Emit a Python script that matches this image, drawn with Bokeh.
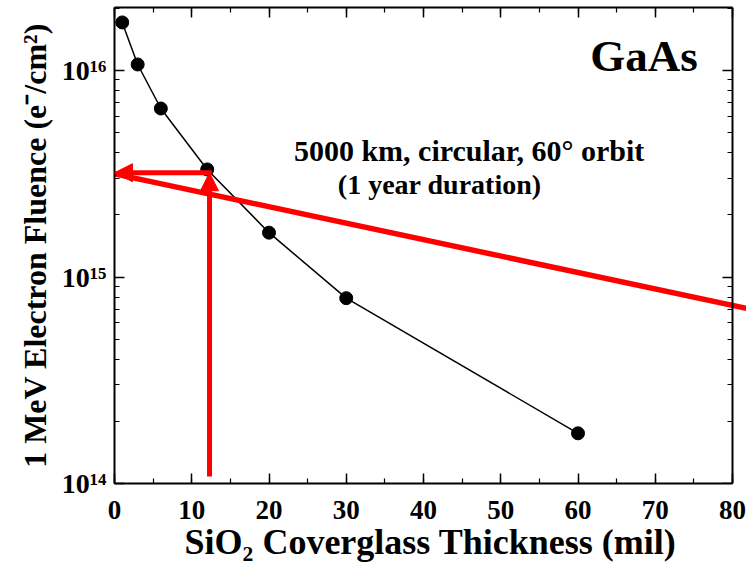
from bokeh.plotting import figure
from bokeh.models import (LinearAxis, LogAxis, SingleIntervalTicker, FixedTicker,
                          Arrow, NormalHead, Label, Range1d, CustomJSTickFormatter)
from bokeh.embed import file_html
from bokeh.resources import INLINE

# ---- data ----
thickness = [1, 3, 6, 12, 20, 30, 60]                       # mil
fluence = [1.71e16, 1.07e16, 6.55e15, 3.32e15, 1.64e15, 7.9e14, 1.75e14]

orbit_thickness = [0, 82]                                   # red mission line
orbit_fluence = [3.16e15, 7.03e14]

req_thickness = 12.3        # read-off thickness (vertical arrow)
req_fluence = 3.2e15        # read-off fluence (horizontal arrow)
arrow_base = 1.08e14
arrow_h_start = 12.6

x_axis_max = 80
x_ticks = [0, 10, 20, 30, 40, 50, 60, 70, 80]
y_ticks = [1e14, 1e15, 1e16]
y_tick_labels = ["10\u00b9\u2074", "10\u00b9\u2075", "10\u00b9\u2076"]
y_minor = [k * d for d in (1e14, 1e15, 1e16) for k in range(2, 10)]

FONT = "Liberation Serif"

# frame spans the page's right edge so the mission line runs past x=80
x_view_max = x_axis_max * (746 - 114) / (732 - 114)

p = figure(width=746, height=566, output_backend="svg", toolbar_location=None,
           x_range=Range1d(0, x_view_max), y_range=Range1d(1e14, 2.02e16),
           y_axis_type="log", x_axis_location=None, y_axis_location=None,
           min_border_left=114, min_border_right=0, min_border_top=7,
           min_border_bottom=83)
p.background_fill_color = "white"
p.border_fill_color = "white"
p.outline_line_color = None
p.xgrid.visible = False
p.ygrid.visible = False

xt = SingleIntervalTicker(interval=10, num_minor_ticks=2)
yt = FixedTicker(ticks=y_ticks, minor_ticks=y_minor)
ylab = CustomJSTickFormatter(args=dict(tvals=y_ticks, tlabs=y_tick_labels), code="""
const i = tvals.findIndex(t => Math.abs(Math.log10(t) - Math.log10(tick)) < 1e-6);
return i >= 0 ? tlabs[i] : '';
""")
blank = CustomJSTickFormatter(code="return '';")


def style(ax, labels=True):
    ax.axis_line_width = 2
    ax.axis_line_color = "black"
    ax.major_tick_in = 10
    ax.major_tick_out = 0
    ax.minor_tick_in = 5
    ax.minor_tick_out = 0
    ax.major_tick_line_width = 1.5
    ax.minor_tick_line_width = 1.2
    if labels:
        ax.major_label_text_font = FONT
        ax.major_label_text_font_style = "bold"
        ax.major_label_text_font_size = "27px"
        ax.major_label_text_color = "black"
        ax.axis_label_text_font = FONT
        ax.axis_label_text_font_style = "bold"
        ax.axis_label_text_color = "black"
    else:
        ax.major_label_text_font_size = "0px"
        ax.major_label_standoff = 0


xb = LinearAxis(ticker=xt, axis_label="SiO\u2082 Coverglass Thickness (mil)",
                bounds=(0, x_axis_max))
style(xb)
xb.axis_label_text_font_size = "36px"
xb.major_label_standoff = 17
xb.axis_label_standoff = 0
p.add_layout(xb, "below")

yl = LogAxis(ticker=yt, formatter=ylab,
             axis_label="1 MeV Electron Fluence (e\u207b/cm\u00b2)")
style(yl)
yl.major_label_text_font_size = "28px"
yl.axis_label_text_font_size = "32px"
yl.major_label_standoff = 8
yl.axis_label_standoff = 6
p.add_layout(yl, "left")

xa = LinearAxis(ticker=xt, formatter=blank, bounds=(0, x_axis_max))
style(xa, labels=False)
p.add_layout(xa, "above")

yr = LogAxis(ticker=yt, formatter=blank, fixed_location=x_axis_max)
style(yr, labels=False)
p.add_layout(yr, "right")

# data curve
p.line(thickness, fluence, line_color="black", line_width=1.5)
p.scatter(thickness, fluence, size=13, color="black")

# mission line
p.line(orbit_thickness, orbit_fluence, line_color="red", line_width=5.5)

# read-off arrows
p.add_layout(Arrow(end=NormalHead(size=18, fill_color="red", line_color="red"),
                   x_start=arrow_h_start, y_start=req_fluence,
                   x_end=0, y_end=req_fluence,
                   line_color="red", line_width=5))
p.add_layout(Arrow(end=NormalHead(size=18, fill_color="red", line_color="red"),
                   x_start=req_thickness, y_start=arrow_base,
                   x_end=req_thickness, y_end=req_fluence,
                   line_color="red", line_width=5))

# texts
p.add_layout(Label(x=75.5, y=1.17e16, text="GaAs", text_align="right",
                   text_baseline="alphabetic", text_font=FONT,
                   text_font_style="bold", text_font_size="45px",
                   text_color="black"))
p.add_layout(Label(x=45.9, y=4.1e15, text="5000 km, circular, 60\u00b0 orbit",
                   text_align="center", text_baseline="alphabetic",
                   text_font=FONT, text_font_style="bold",
                   text_font_size="30px", text_color="black"))
p.add_layout(Label(x=42.1, y=2.81e15, text="(1 year duration)",
                   text_align="center", text_baseline="alphabetic",
                   text_font=FONT, text_font_style="bold",
                   text_font_size="28px", text_color="black"))

open("out.html", "w").write(file_html(p, INLINE))
